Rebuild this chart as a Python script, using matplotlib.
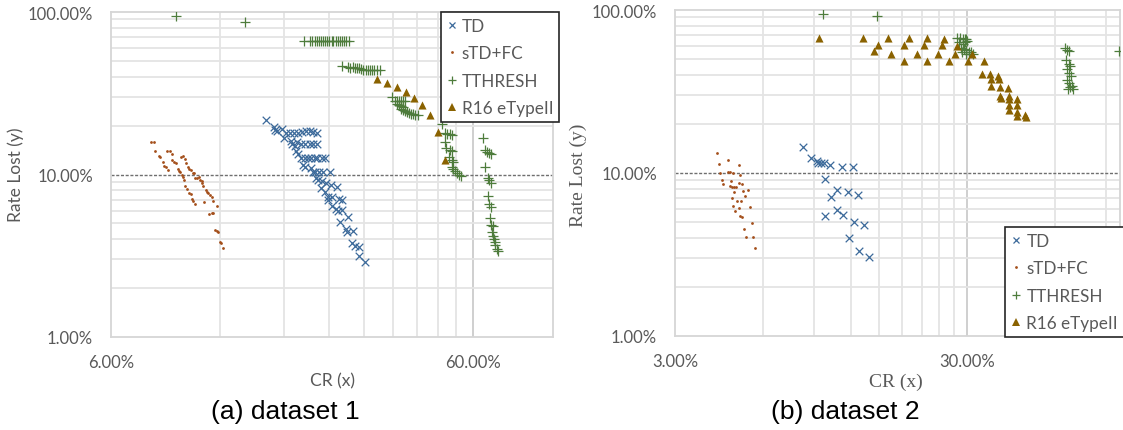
import matplotlib
matplotlib.use("Agg")
import matplotlib.pyplot as plt
from matplotlib.ticker import FixedLocator, FuncFormatter, NullFormatter
from matplotlib.lines import Line2D

plt.rcParams['font.family'] = ['Lato', 'DejaVu Sans']

# ---------------- data (values in percent) ----------------
series_names = ["TD", "sTD+FC", "TTHRESH", "R16 eTypeII"]

# dataset 1
d1_td_x = [16.1, 16.9, 17.0, 17.2, 17.8, 18.0,
           18.3, 18.7, 19.2, 19.7, 20.2, 20.7, 21.3, 21.7, 22.3,
           18.8, 19.0, 19.3,
           19.6, 20.15, 20.6, 21.3, 21.7, 22.3,
           19.5, 19.75, 20.05, 20.6, 21.0, 21.45, 21.9, 22.3, 22.9, 23.4,
           20.3, 20.6,
           21.4, 21.7, 21.95, 22.5, 23.1, 24.2,
           22.05, 22.4, 22.9, 23.5, 24.3, 25.2,
           22.85, 23.4, 23.8, 24.5, 25.6, 26.1,
           23.8, 24.5, 25.05, 25.5, 26.05, 27.1,
           25.75, 26.7, 27.0, 28.0,
           27.8, 28.3, 29.1,
           29.0, 30.1]
d1_td_y = [21.8, 19.5, 18.9, 18.5, 19.05, 16.8,
           18.0, 18.0, 18.0, 18.0, 18.2, 18.5, 18.5, 18.2, 18.0,
           16.1, 15.3, 15.05,
           15.8, 15.5, 15.5, 15.3, 15.5, 15.3,
           13.95, 13.4, 12.7, 12.7, 12.7, 12.7, 12.7, 12.7, 12.6, 12.6,
           11.4, 11.2,
           10.9, 10.4, 10.3, 10.4, 10.4, 10.4,
           9.55, 9.3, 9.1, 8.9, 8.6, 8.4,
           8.3, 7.8, 7.3, 7.3, 7.07, 7.0,
           7.0, 6.4, 6.1, 5.95, 6.07, 5.5,
           5.1, 4.6, 4.4, 4.5,
           3.8, 3.65, 3.6,
           3.17, 2.88]

d1_stdfc_x = [7.76, 7.90, 7.95, 8.12, 8.19, 8.33, 8.43, 8.49, 8.64, 8.58, 8.72, 8.84,
              8.86, 8.97, 9.07, 9.17, 9.25, 9.32, 9.41, 9.47, 9.53, 9.39, 9.47, 9.59,
              9.67, 9.78, 9.86, 9.96, 10.09, 10.2, 10.26, 10.4, 10.49, 10.59, 10.68,
              10.7, 10.79, 10.95, 11.02, 11.1, 11.24, 11.38, 11.47, 11.75, 9.62, 9.75,
              9.88, 9.99, 10.04, 10.14, 10.26, 10.83, 11.2, 11.4, 11.49, 11.64, 11.74,
              11.85, 12.0, 12.08, 12.26]
d1_stdfc_y = [15.9, 15.9, 14.0, 13.05, 12.9, 11.9, 11.3, 11.1, 10.7, 13.9, 13.9, 13.4,
              12.3, 12.0, 11.8, 10.8, 10.5, 10.3, 10.0, 9.6, 9.3, 12.9, 13.0, 12.4,
              11.8, 11.2, 10.8, 10.7, 10.2, 10.2, 9.5, 9.5, 9.7, 9.3, 9.1,
              8.9, 8.5, 8.05, 7.8, 7.7, 7.5, 7.3, 6.9, 6.4, 8.5, 8.1,
              7.7, 7.6, 7.1, 6.9, 6.6, 6.8, 5.7, 5.8, 5.8, 4.55, 4.5,
              4.4, 3.85, 3.8, 3.55]

d1_tthresh_x = [9.1, 14.1,
                20.5, 21.3, 21.56, 21.9, 22.2, 22.5, 22.8, 23.1, 23.45, 23.75, 24.05,
                24.4, 24.7, 25.05, 25.4, 25.75, 26.1, 26.45, 26.8, 27.3,
                26.1, 27.1, 27.45, 27.9, 28.3, 28.65, 29.05, 29.45, 29.9, 30.3, 30.75,
                31.1, 31.55, 32.0, 32.5, 33.3,
                35.85, 36.6, 37.1, 37.5, 38.0, 38.5, 39.0, 36.9, 37.4, 37.9, 38.4,
                37.9, 38.4, 38.85, 39.4, 39.85, 40.4, 40.9, 41.5, 42.2,
                49.2, 50.1, 51.0, 51.8, 52.5, 50.1, 50.6, 51.8, 52.5, 51.55, 52.5,
                52.9, 52.5, 52.9, 53.6, 54.3, 55.0, 55.5,
                63.8, 64.9, 65.7, 66.6, 67.2, 64.9, 66.0, 66.6, 67.2, 66.0, 66.6,
                67.4, 66.8, 67.4, 68.1, 67.8, 68.3, 68.6, 68.9, 69.2, 69.8, 70.4]
d1_tthresh_y = [95.0, 87.0,
                66.0, 66.0, 66.0, 66.0, 66.0, 66.0, 66.0, 66.0, 66.0, 66.0, 66.0,
                66.0, 66.0, 66.0, 66.0, 66.0, 66.0, 66.0, 66.0, 66.0,
                46.8, 45.9, 45.5, 45.9, 45.5, 45.0, 45.0, 44.6, 44.2, 43.8, 43.8,
                43.8, 43.8, 43.8, 43.8, 43.8,
                29.8, 28.4, 28.4, 28.4, 28.4, 28.4, 28.4, 27.0, 26.8, 26.5, 26.2,
                25.3, 24.85, 24.6, 24.15, 23.9, 23.7, 23.5, 23.3, 23.3,
                20.5, 18.0, 17.8, 17.65, 17.5, 15.9, 14.5, 14.2, 13.95, 12.9, 12.2,
                12.0, 11.1, 10.8, 10.5, 10.2, 10.0, 9.8,
                16.7, 14.1, 13.8, 13.6, 13.45, 11.2, 9.5, 9.2, 8.9, 7.4, 6.6,
                6.3, 5.4, 4.9, 4.8, 4.4, 4.2, 4.0, 3.83, 3.68, 3.5, 3.38]

d1_r16_x = [32.5, 34.8, 36.9, 39.2, 41.3, 43.5, 45.65, 48.0, 50.1]
d1_r16_y = [38.7, 36.6, 34.6, 32.1, 29.4, 26.6, 23.1, 18.2, 12.2]

# dataset 2
d2_td_x = [8.25, 8.76, 9.2, 9.3, 9.45, 9.7, 10.22, 11.2, 12.2, 9.78, 10.73, 10.27,
           11.75, 12.75, 10.73, 11.3, 9.78, 12.35, 13.3, 11.85, 12.85, 13.9]
d2_td_y = [14.5, 12.4, 11.8, 11.44, 11.55, 11.44, 11.2, 10.95, 10.84, 9.24, 7.91, 7.15,
           7.6, 7.38, 5.95, 5.51, 5.41, 5.0, 4.82, 3.97, 3.34, 3.06]

d2_stdfc_x = [4.19, 4.25, 4.29, 4.34, 4.38, 4.57, 4.57, 4.62, 4.75, 4.68, 4.62, 4.72,
              4.79, 4.84, 4.78, 4.96, 5.01, 4.98, 5.08, 5.13, 5.35, 5.21, 4.69, 4.89,
              5.04, 4.74, 4.81, 4.98, 5.43, 5.01, 5.08, 5.49, 5.16, 5.24, 5.54, 5.63]
d2_stdfc_y = [13.2, 11.4, 10.06, 9.06, 8.55, 11.97, 10.1, 10.15, 10.06, 8.94, 8.28, 8.22,
              8.22, 8.22, 7.69, 11.27, 9.73, 8.68, 8.6, 7.73, 7.83, 7.22, 7.0, 6.73,
              6.73, 6.24, 5.87, 6.1, 6.18, 5.47, 5.4, 4.92, 4.53, 4.03, 4.05, 3.45]

d2_tthresh_x = [9.66, 14.7,
                27.7, 28.4, 29.1, 29.8, 28.25, 29.0, 29.5, 28.7, 29.25, 29.8, 30.4,
                31.0, 31.4, 28.85, 29.65, 30.5, 29.5, 29.9,
                65.0, 66.2, 67.3, 65.5, 66.9, 67.7, 65.9, 66.9, 68.1, 66.2, 67.3,
                68.4, 69.2, 66.5, 67.7,
                99.5]
d2_tthresh_y = [94.1, 91.5,
                67.0, 67.0, 66.35, 66.35, 63.3, 62.0, 63.3, 58.4, 57.6, 56.6, 55.6,
                55.2, 53.7, 55.6, 53.9, 53.7, 66.35, 64.9,
                58.2, 57.0, 55.9, 49.1, 46.8, 45.4, 43.4, 40.9, 39.6, 37.0, 35.5,
                34.2, 32.7, 32.7, 33.6,
                55.8]

d2_r16_x = [9.36, 13.2, 14.86, 14.4, 16.1, 16.5, 18.2, 18.2, 19.0, 20.16, 21.4, 21.9,
            21.95, 23.8, 24.7, 24.95, 26.1, 27.3, 27.8, 30.3, 31.1, 34.3, 33.7, 36.0,
            36.2, 38.4, 38.6, 36.3, 38.9, 41.5, 38.9, 39.1, 41.7, 41.7, 44.5, 41.9,
            44.5, 41.9, 44.5, 44.5, 47.3, 47.6]
d2_r16_y = [67.0, 67.0, 60.95, 56.2, 67.0, 53.9, 60.95, 48.4, 67.0, 53.9, 60.95, 67.0,
            48.4, 53.9, 60.95, 66.35, 48.4, 53.9, 60.0, 48.4, 53.9, 48.4, 40.6, 40.6,
            37.7, 39.6, 37.7, 34.0, 33.5, 33.2, 29.8, 29.0, 29.8, 28.6, 28.4, 26.3,
            26.0, 24.4, 23.6, 22.5, 22.7, 22.1]

# axis settings
d1_xlim = (6, 100)
d1_xmajor = [6, 60]
d1_xminor = [12, 18, 24, 30, 36, 42, 48, 54]
d2_xlim = (3, 100)
d2_xmajor = [3, 30]
d2_xminor = [6, 9, 12, 15, 18, 21, 24, 27, 60, 90]
ylim = (1, 100)
ymajor = [1, 10, 100]
yminor = [2, 3, 4, 5, 6, 7, 8, 9, 20, 30, 40, 50, 60, 70, 80, 90]
threshold = 10
captions = ["(a) dataset 1", "(b) dataset 2"]

# ---------------- styles ----------------
C_TD = '#3C6A9A'
C_FC = '#A34E1A'
C_TT = '#4E7C3C'
C_R16 = '#8A6200'
GRAY_TXT = '#595959'
GRID = '#e4e4e4'

fig = plt.figure(figsize=(11.23, 4.31), dpi=100)
W, H = 1123, 431

ax1 = fig.add_axes([111 / W, (H - 338) / H, (553.3 - 111) / W, 325 / H])
ax2 = fig.add_axes([675 / W, (H - 337) / H, (1119.7 - 675) / W, 326 / H])

pct = FuncFormatter(lambda v, p: f"{v:.2f}%")


def style_axes(ax, xlim, xmajor, xminor, serif_labels):
    ax.set_xscale('log')
    ax.set_yscale('log')
    ax.set_xlim(*xlim)
    ax.set_ylim(*ylim)
    ax.xaxis.set_major_locator(FixedLocator(xmajor))
    ax.xaxis.set_minor_locator(FixedLocator(xminor))
    ax.yaxis.set_major_locator(FixedLocator(ymajor))
    ax.yaxis.set_minor_locator(FixedLocator(yminor))
    ax.xaxis.set_major_formatter(pct)
    ax.yaxis.set_major_formatter(pct)
    ax.xaxis.set_minor_formatter(NullFormatter())
    ax.yaxis.set_minor_formatter(NullFormatter())
    ax.tick_params(which='both', length=0)
    ax.tick_params(axis='x', which='major', pad=12, labelsize=12, labelcolor=GRAY_TXT)
    ax.tick_params(axis='y', which='major', pad=13, labelsize=12, labelcolor=GRAY_TXT)
    ax.grid(which='minor', color=GRID, lw=1.3)
    ax.set_axisbelow(True)
    ax.axvline(xmajor[1], color='#cfcfcf', lw=1.4, zorder=0.5)
    ax.axhline(threshold, color='#6f6f6f', lw=1.0, ls=(0, (2.2, 1.2)), zorder=0.6)
    for s in ax.spines.values():
        s.set_color('#d6d6d6')
        s.set_linewidth(1.3)
    if serif_labels:
        fp = dict(family=['Liberation Serif'], size=14, color=GRAY_TXT)
    else:
        fp = dict(family=['Lato', 'DejaVu Sans'], size=12.5, color=GRAY_TXT)
    ax.set_xlabel("CR (x)", **fp)
    ax.set_ylabel("Rate Lost (y)", **fp)


def plot_series(ax, td, fc, tt, r16):
    ax.scatter(td[0], td[1], marker='x', s=30, color=C_TD, linewidths=0.9, zorder=3)
    ax.scatter(fc[0], fc[1], marker='o', s=4, color=C_FC, linewidths=0, zorder=3)
    ax.scatter(tt[0], tt[1], marker='+', s=42, color=C_TT, linewidths=0.9, zorder=3)
    ax.scatter(r16[0], r16[1], marker='^', s=34, color=C_R16, linewidths=0, zorder=3)


style_axes(ax1, d1_xlim, d1_xmajor, d1_xminor, serif_labels=False)
style_axes(ax2, d2_xlim, d2_xmajor, d2_xminor, serif_labels=True)

plot_series(ax1, (d1_td_x, d1_td_y), (d1_stdfc_x, d1_stdfc_y),
            (d1_tthresh_x, d1_tthresh_y), (d1_r16_x, d1_r16_y))
plot_series(ax2, (d2_td_x, d2_td_y), (d2_stdfc_x, d2_stdfc_y),
            (d2_tthresh_x, d2_tthresh_y), (d2_r16_x, d2_r16_y))

# label positions
ax1.xaxis.set_label_coords((333 - 111) / 442.3, (338 - 381) / 325)
ax1.xaxis.label.set_va('center')
ax1.yaxis.set_label_coords((16 - 111) / 442.3, (338 - 175) / 325)
ax1.yaxis.label.set_va('center')
ax2.xaxis.set_label_coords((896 - 675) / 444.7, (337 - 382) / 326)
ax2.xaxis.label.set_va('center')
ax2.yaxis.set_label_coords((578 - 675) / 444.7, (337 - 175) / 326)
ax2.yaxis.label.set_va('center')

# legends
handles = [
    Line2D([], [], ls='none', marker='x', ms=5, mew=0.9, color=C_TD),
    Line2D([], [], ls='none', marker='o', ms=2.0, mew=0, color=C_FC),
    Line2D([], [], ls='none', marker='+', ms=6, mew=0.9, color=C_TT),
    Line2D([], [], ls='none', marker='^', ms=5.5, mew=0, color=C_R16),
]


def add_legend(ax, x0, y0):
    leg = ax.legend(handles, series_names, loc='upper left',
                    bbox_to_anchor=(x0 / W, 1 - y0 / H), bbox_transform=fig.transFigure,
                    borderaxespad=0, frameon=True, fancybox=False, framealpha=1,
                    edgecolor='#262626', prop=dict(family=['Lato', 'DejaVu Sans'], size=12.3),
                    labelcolor=GRAY_TXT, handlelength=0.6, handletextpad=0.3,
                    labelspacing=0.66, borderpad=0.35)
    leg.get_frame().set_linewidth(1.2)
    leg.set_zorder(10)
    return leg


add_legend(ax1, 440.5, 13)
add_legend(ax2, 1005, 228)

cap_font = dict(family=['Liberation Sans'], size=19, color='black', ha='center', va='center')
fig.text(285 / W, 1 - 412 / H, captions[0], **cap_font)
fig.text(845.5 / W, 1 - 412 / H, captions[1], **cap_font)

fig.savefig("out.png", dpi=100)
